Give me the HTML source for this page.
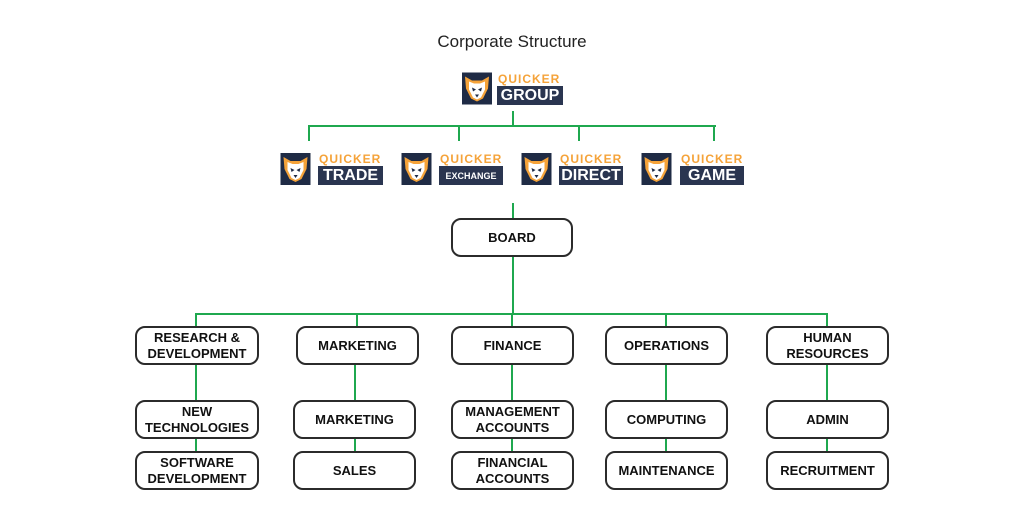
<!DOCTYPE html>
<html><head><meta charset="utf-8"><style>
body{margin:0;background:#fff;}
#c{position:relative;width:1024px;height:528px;overflow:hidden;font-family:"Liberation Sans",sans-serif;}
.g{position:absolute;background:#1fa84f;}
.b{position:absolute;box-sizing:border-box;border:2px solid #2b2b2b;border-radius:10px;background:#fff;display:flex;align-items:center;justify-content:center;text-align:center;font-weight:bold;font-size:13px;line-height:16px;color:#111;}
.ic{position:absolute;}
.q{position:absolute;color:#f5a33a;font-weight:bold;font-size:12px;letter-spacing:1px;line-height:12px;}
.t{position:absolute;background:#2a3550;color:#fff;font-weight:bold;display:flex;align-items:center;justify-content:center;}
</style></head><body><div id="c">
<div style="position:absolute;left:0;width:1024px;top:32px;text-align:center;font-size:17px;color:#222;">Corporate Structure</div>

<svg width="0" height="0" style="position:absolute"><defs>
<symbol id="tg" viewBox="0 0 30 32"><rect width="30" height="32" fill="#1f2b45"/>
<polygon points="3,4 10,8 20,8 27,4 26,16 21,26 15,29 9,26 4,16" fill="#f5a33a"/>
<polygon points="7,9 12,11 18,11 23,9 23,17 19,25 15,27 11,25 7,17" fill="#fff"/>
<polygon points="10,15 14,17 11,19" fill="#1f2b45"/><polygon points="20,15 16,17 19,19" fill="#1f2b45"/>
<polygon points="13,22 17,22 15,25" fill="#1f2b45"/></symbol></defs></svg>

<svg class="ic" style="left:462px;top:72px" width="30" height="33"><use href="#tg"/></svg>
<div class="q" style="left:498px;top:73px">QUICKER</div>
<div class="t" style="left:497px;top:86px;width:66px;height:19px;font-size:16px">GROUP</div>

<div class="g" style="left:512px;top:111px;width:2px;height:16px"></div>
<div class="g" style="left:308px;top:125px;width:408px;height:2px"></div>
<div class="g" style="left:308px;top:125px;width:2px;height:16px"></div>
<div class="g" style="left:458px;top:125px;width:2px;height:16px"></div>
<div class="g" style="left:578px;top:125px;width:2px;height:16px"></div>
<div class="g" style="left:713px;top:125px;width:2px;height:16px"></div>

<svg class="ic" style="left:280px;top:153px" width="31" height="32"><use href="#tg"/></svg>
<div class="q" style="left:319px;top:153px">QUICKER</div>
<div class="t" style="left:318px;top:166px;width:65px;height:19px;font-size:16px">TRADE</div>

<svg class="ic" style="left:401px;top:153px" width="31" height="32"><use href="#tg"/></svg>
<div class="q" style="left:440px;top:153px">QUICKER</div>
<div class="t" style="left:439px;top:166px;width:64px;height:19px;font-size:9px">EXCHANGE</div>

<svg class="ic" style="left:521px;top:153px" width="31" height="32"><use href="#tg"/></svg>
<div class="q" style="left:560px;top:153px">QUICKER</div>
<div class="t" style="left:559px;top:166px;width:64px;height:19px;font-size:16px">DIRECT</div>

<svg class="ic" style="left:641px;top:153px" width="31" height="32"><use href="#tg"/></svg>
<div class="q" style="left:681px;top:153px">QUICKER</div>
<div class="t" style="left:680px;top:166px;width:64px;height:19px;font-size:16px">GAME</div>

<div class="g" style="left:512px;top:203px;width:2px;height:112px"></div>
<div class="g" style="left:195px;top:313px;width:633px;height:2px"></div>
<div class="g" style="left:195px;top:313px;width:2px;height:160px"></div>
<div class="g" style="left:356px;top:313px;width:2px;height:40px"></div>
<div class="g" style="left:354px;top:353px;width:2px;height:120px"></div>
<div class="g" style="left:511px;top:313px;width:2px;height:160px"></div>
<div class="g" style="left:665px;top:313px;width:2px;height:160px"></div>
<div class="g" style="left:826px;top:313px;width:2px;height:160px"></div>

<div class="b" style="left:451px;top:218px;width:122px;height:39px">BOARD</div>

<div class="b" style="left:135px;top:326px;width:124px;height:39px">RESEARCH &amp;<br>DEVELOPMENT</div>
<div class="b" style="left:296px;top:326px;width:123px;height:39px">MARKETING</div>
<div class="b" style="left:451px;top:326px;width:123px;height:39px">FINANCE</div>
<div class="b" style="left:605px;top:326px;width:123px;height:39px">OPERATIONS</div>
<div class="b" style="left:766px;top:326px;width:123px;height:39px">HUMAN<br>RESOURCES</div>

<div class="b" style="left:135px;top:400px;width:124px;height:39px">NEW<br>TECHNOLOGIES</div>
<div class="b" style="left:293px;top:400px;width:123px;height:39px">MARKETING</div>
<div class="b" style="left:451px;top:400px;width:123px;height:39px">MANAGEMENT<br>ACCOUNTS</div>
<div class="b" style="left:605px;top:400px;width:123px;height:39px">COMPUTING</div>
<div class="b" style="left:766px;top:400px;width:123px;height:39px">ADMIN</div>

<div class="b" style="left:135px;top:451px;width:124px;height:39px">SOFTWARE<br>DEVELOPMENT</div>
<div class="b" style="left:293px;top:451px;width:123px;height:39px">SALES</div>
<div class="b" style="left:451px;top:451px;width:123px;height:39px">FINANCIAL<br>ACCOUNTS</div>
<div class="b" style="left:605px;top:451px;width:123px;height:39px">MAINTENANCE</div>
<div class="b" style="left:766px;top:451px;width:123px;height:39px">RECRUITMENT</div>
</div></body></html>
